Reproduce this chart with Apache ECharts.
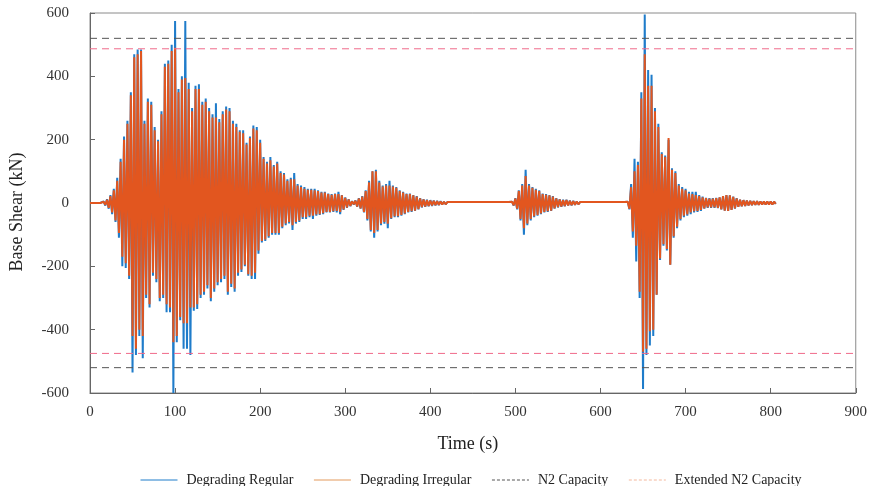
<!DOCTYPE html>
<html>
<head>
<meta charset="utf-8">
<script src="https://cdn.jsdelivr.net/npm/echarts@6/dist/echarts.min.js"></script>
<style>
html,body{margin:0;padding:0;background:#fff;}
#chart{width:870px;height:486px;}
</style>
</head>
<body>
<div id="chart"></div>
<script>
// Sampling of the response histories (s)
const timeStart = 0;
const timeStep = 2;

// Degrading Regular base shear (kN), one sample every 2 s from t = 0
const degradingRegular = [
  0,0,0,0,0,0,0,0,5,-8,
  12,-18,25,-35,45,-60,80,-110,140,-200,
  210,-205,260,-240,350,-535,470,-480,485,-420,
  485,-490,260,-300,330,-330,320,-230,240,-250,
  200,-310,290,-300,440,-345,450,-345,500,-600,
  575,-440,360,-370,400,-460,575,-460,380,-480,
  300,-340,370,-335,375,-300,320,-290,330,-270,
  300,-310,280,-280,315,-260,265,-250,290,-240,
  305,-290,300,-265,260,-280,250,-230,230,-218,
  230,-200,190,-230,210,-240,245,-240,240,-160,
  200,-125,145,-120,130,-110,145,-100,120,-100,
  130,-100,100,-80,95,-70,75,-65,80,-85,
  95,-65,60,-60,55,-50,50,-50,45,-45,
  45,-50,45,-40,40,-38,35,-35,35,-30,
  30,-30,28,-28,30,-30,35,-35,25,-22,
  18,-15,12,-10,6,-5,8,-12,15,-18,
  22,-30,40,-55,70,-90,100,-110,105,-90,
  70,-70,55,-65,60,-80,70,-50,55,-45,
  50,-45,40,-40,35,-35,30,-30,30,-28,
  25,-25,22,-20,15,-14,12,-12,10,-10,
  9,-9,8,-8,7,-7,6,-5,4,-4,
  3,-3,3,-3,3,-3,3,-3,3,-3,
  3,-3,3,-3,3,-3,3,-3,3,-3,
  3,-3,3,-3,3,-3,3,-3,3,-3,
  3,-3,3,-3,3,-3,3,-3,4,-8,
  15,-20,40,-55,60,-100,105,-70,60,-55,
  50,-45,45,-40,40,-35,30,-30,28,-28,
  25,-25,22,-18,15,-14,12,-12,10,-10,
  10,-8,8,-8,7,-6,5,-4,3,-3,
  3,-3,3,-3,3,-3,3,-3,3,-3,
  3,-3,3,-3,3,-3,3,-3,3,-3,
  3,-3,3,-3,3,-3,4,-20,60,-110,
  140,-185,130,-300,350,-587,595,-480,420,-450,
  405,-420,300,-290,250,-180,160,-135,150,-150,
  200,-195,110,-110,100,-80,60,-55,50,-45,
  45,-40,35,-35,35,-30,35,-28,25,-25,
  20,-18,16,-15,15,-15,15,-15,16,-16,
  18,-20,22,-24,25,-25,24,-22,20,-18,
  15,-12,10,-10,9,-9,8,-8,7,-7,
  6,-6,6,-6,5,-5,5,-5,5,-5,
  5,-5,4,-3
];

// Degrading Irregular base shear (kN), same sampling
const degradingIrregular = [
  0,0,0,0,0,0,0,0,4,-6,
  10,-15,22,-30,40,-55,70,-95,130,-170,
  200,-190,250,-230,340,-420,460,-460,470,-400,
  480,-420,250,-290,320,-320,310,-220,230,-240,
  195,-300,280,-290,430,-320,440,-330,480,-440,
  490,-420,350,-360,390,-380,395,-380,360,-330,
  290,-330,360,-320,360,-290,310,-280,320,-260,
  290,-300,270,-270,270,-250,255,-240,280,-230,
  295,-280,290,-255,250,-270,240,-220,225,-210,
  220,-195,185,-225,205,-230,235,-220,230,-150,
  190,-120,140,-115,125,-105,135,-95,115,-95,
  125,-95,95,-75,90,-65,70,-60,75,-70,
  75,-60,55,-55,50,-45,45,-45,42,-40,
  42,-40,40,-36,38,-35,33,-32,33,-28,
  28,-28,26,-26,28,-25,28,-28,24,-20,
  16,-14,11,-9,5,-4,7,-11,14,-17,
  20,-28,38,-50,65,-85,100,-95,100,-85,
  65,-65,52,-60,55,-65,55,-48,52,-42,
  48,-42,38,-38,33,-33,28,-28,28,-26,
  24,-24,20,-19,14,-13,11,-11,9,-9,
  8,-8,7,-7,6,-6,5,-5,4,-4,
  3,-3,3,-3,3,-3,3,-3,3,-3,
  3,-3,3,-3,3,-3,3,-3,3,-3,
  3,-3,3,-3,3,-3,3,-3,3,-3,
  3,-3,3,-3,3,-3,3,-3,4,-7,
  14,-18,38,-50,55,-80,85,-65,55,-50,
  48,-42,42,-38,38,-33,28,-28,26,-26,
  24,-24,20,-17,14,-13,11,-11,9,-9,
  9,-8,7,-7,6,-6,5,-4,3,-3,
  3,-3,3,-3,3,-3,3,-3,3,-3,
  3,-3,3,-3,3,-3,3,-3,3,-3,
  3,-3,3,-3,3,-3,4,-18,50,-90,
  100,-135,120,-280,330,-470,470,-460,370,-405,
  370,-400,290,-290,240,-175,155,-130,145,-145,
  205,-195,105,-105,95,-75,55,-50,45,-40,
  40,-36,30,-30,28,-26,25,-25,22,-22,
  18,-17,15,-14,14,-14,14,-14,15,-15,
  18,-20,22,-24,25,-25,24,-22,19,-17,
  14,-12,10,-10,9,-9,8,-8,7,-7,
  6,-6,6,-6,5,-5,5,-5,5,-5,
  5,-5,4,-3
];

// Capacity limits (kN)
const n2Capacity = [520, -520];
const extendedN2Capacity = [487, -475];
const timeRange = [0, 900];

// Axis ticks
const xTicks = [0, 100, 200, 300, 400, 500, 600, 700, 800, 900];
const yTicks = [-600, -400, -200, 0, 200, 400, 600];

const seriesNames = ['Degrading Regular', 'Degrading Irregular', 'N2 Capacity', 'Extended N2 Capacity'];

function toPairs(values) {
  return values.map((v, i) => [timeStart + i * timeStep, v]);
}
function capacityLines(levels) {
  const out = [];
  levels.forEach((lv, k) => {
    if (k > 0) out.push([timeRange[0], '-']);
    out.push([timeRange[0], lv], [timeRange[1], lv]);
  });
  return out;
}

const FONT = '"Liberation Serif", "Times New Roman", serif';
const BLUE = '#1f7cca';
const ORANGE = '#e2561f';
const chart = echarts.init(document.getElementById('chart'), null, { renderer: 'canvas' });

chart.setOption({
  animation: false,
  backgroundColor: '#ffffff',
  textStyle: { fontFamily: FONT },
  grid: {
    left: 88, right: 13, top: 13, bottom: 93,
    show: true, borderColor: '#8a8a8a', borderWidth: 1, backgroundColor: 'transparent'
  },
  legend: {
    left: 135, top: 468,
    itemWidth: 37, itemHeight: 12, itemGap: 20,
    itemStyle: { opacity: 0 },
    textStyle: { fontFamily: FONT, fontSize: 14, color: '#222', padding: [0, 0, 0, 4] },
    data: [
      { name: seriesNames[0], lineStyle: { width: 1, color: BLUE } },
      { name: seriesNames[1], lineStyle: { width: 1, color: '#e39a5c' } },
      { name: seriesNames[2], lineStyle: { type: [3, 2], width: 1, color: '#555' } },
      { name: seriesNames[3], lineStyle: { type: [3, 2], width: 1, color: '#f4b89c' } }
    ]
  },
  xAxis: {
    type: 'value',
    min: xTicks[0], max: xTicks[xTicks.length - 1], interval: 100,
    name: 'Time (s)', nameLocation: 'middle', nameGap: 42,
    nameTextStyle: { fontFamily: FONT, fontSize: 18, color: '#222', padding: [0, 10, 0, 0] },
    axisLine: { show: true, onZero: false, lineStyle: { color: '#666', width: 1 } },
    axisTick: { show: true, inside: true, length: 5, lineStyle: { color: '#666' } },
    axisLabel: { fontFamily: FONT, fontSize: 15, color: '#333', margin: 12 },
    splitLine: { show: false }
  },
  yAxis: {
    type: 'value',
    min: yTicks[0], max: yTicks[yTicks.length - 1], interval: 200,
    name: 'Base Shear (kN)', nameLocation: 'middle', nameGap: 64, nameRotate: 90,
    nameTextStyle: { fontFamily: FONT, fontSize: 18, color: '#222', padding: [0, 18, 0, 0] },
    axisLine: { show: true, onZero: false, lineStyle: { color: '#666', width: 1 } },
    axisTick: { show: true, inside: true, length: 5, lineStyle: { color: '#666' } },
    axisLabel: { fontFamily: FONT, fontSize: 15, color: '#333', margin: 21 },
    splitLine: { show: false }
  },
  series: [
    {
      name: seriesNames[0], type: 'line', data: toPairs(degradingRegular),
      symbol: 'none', showSymbol: false, z: 2,
      lineStyle: { color: BLUE, width: 2, join: 'bevel' }, itemStyle: { color: BLUE }
    },
    {
      name: seriesNames[1], type: 'line', data: toPairs(degradingIrregular),
      symbol: 'none', showSymbol: false, z: 3,
      lineStyle: { color: ORANGE, width: 2, join: 'bevel' }, itemStyle: { color: ORANGE }
    },
    {
      name: seriesNames[2], type: 'line', data: capacityLines(n2Capacity),
      symbol: 'none', showSymbol: false, z: 4, connectNulls: false,
      lineStyle: { color: '#555', width: 1, type: [7, 5] }, itemStyle: { color: '#555' }
    },
    {
      name: seriesNames[3], type: 'line', data: capacityLines(extendedN2Capacity),
      symbol: 'none', showSymbol: false, z: 4, connectNulls: false,
      lineStyle: { color: '#f06a8a', width: 1, type: [7, 5] }, itemStyle: { color: '#f06a8a' }
    }
  ]
});
</script>
</body>
</html>
